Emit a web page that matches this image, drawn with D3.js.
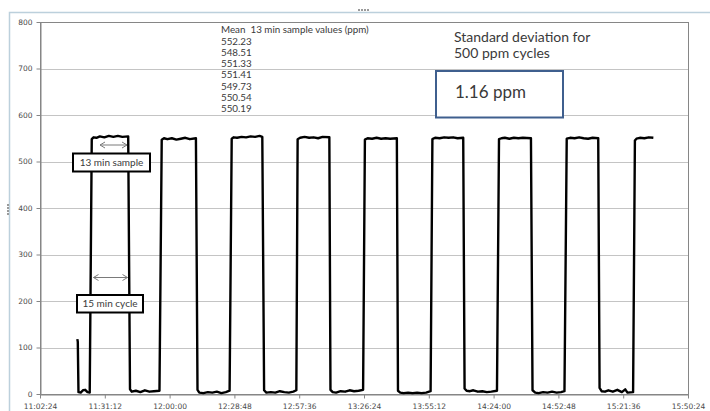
<!doctype html>
<html>
<head>
<meta charset="utf-8"/>
<title>500 ppm cycles</title>
<script src="https://cdnjs.cloudflare.com/ajax/libs/d3/7.8.5/d3.min.js"></script>
<style>
  body { margin: 0; background: #fff; }
  svg { display: block; }
  .tick-label { font-family: "DejaVu Sans", sans-serif; font-size: 7.5px; fill: #4a4a4a; }
  .note { font-family: Lato, "Open Sans", sans-serif; fill: #3a3a3a; white-space: pre; }
  .grid { stroke: #c4c4c4; stroke-width: 1; }
  .frame { stroke: #868686; stroke-width: 1; fill: none; }
</style>
</head>
<body>
<svg width="710" height="411"></svg>
<script>
var timeTicks = ["11:02:24", "11:31:12", "12:00:00", "12:28:48", "12:57:36", "13:26:24",
                 "13:55:12", "14:24:00", "14:52:48", "15:21:36", "15:50:24"];
var ppmTicks = [0, 100, 200, 300, 400, 500, 600, 700, 800];

var sampleTimes = [
  "11:19:00","11:19:12","11:19:30","11:20:30","11:21:30","11:22:30","11:23:30","11:24:30",
  "11:25:24","11:26:12","11:27:30","11:29:00","11:31:00","11:33:00","11:35:00","11:37:00","11:39:00","11:41:36",
  "11:42:24","11:43:12","11:45:00","11:47:00","11:49:00","11:51:00","11:53:00","11:55:30",
  "11:56:30","11:57:30","11:59:00","12:01:00","12:03:00","12:05:00","12:07:00","12:09:00","12:11:42",
  "12:12:24","12:13:12","12:15:00","12:17:00","12:19:00","12:21:00","12:23:00","12:25:00","12:26:40",
  "12:27:36","12:28:30","12:30:00","12:32:00","12:34:00","12:36:00","12:38:00","12:40:00","12:41:12",
  "12:42:00","12:43:00","12:45:00","12:47:00","12:49:00","12:51:00","12:53:00","12:55:00","12:56:20",
  "12:56:54","12:58:00","13:00:00","13:02:00","13:04:00","13:06:00","13:08:00","13:11:00",
  "13:11:30","13:12:30","13:14:00","13:16:00","13:18:00","13:20:00","13:22:00","13:24:00","13:26:00",
  "13:26:48","13:28:00","13:30:00","13:32:00","13:34:00","13:36:00","13:38:00","13:41:00",
  "13:41:30","13:42:30","13:44:00","13:46:00","13:48:00","13:50:00","13:52:00","13:54:00","13:56:00",
  "13:56:48","13:58:00","14:00:00","14:02:00","14:04:00","14:06:00","14:08:00","14:10:30",
  "14:11:06","14:12:00","14:13:30","14:15:00","14:17:00","14:19:00","14:21:00","14:23:00","14:25:30",
  "14:26:24","14:27:30","14:29:00","14:31:00","14:33:00","14:35:00","14:37:00","14:40:36",
  "14:41:18","14:42:30","14:44:00","14:46:00","14:48:00","14:50:00","14:52:00","14:54:00","14:55:30",
  "14:56:30","14:58:00","15:00:00","15:02:00","15:04:00","15:06:00","15:08:00","15:10:30",
  "15:11:06","15:12:00","15:13:30","15:15:00","15:17:00","15:19:00","15:21:00","15:22:30","15:23:30","15:26:00",
  "15:26:48","15:27:30","15:29:00","15:31:00","15:33:00","15:35:00"
];
var ppmValues = [
  118,112,4,3,8,9,4,3,
  548,552,551,554,552,555,553,555,553,554,
  10,5,7,4,8,5,6,7,
  547,550,548,550,547,549,551,548,550,
  9,3,2,4,3,5,2,4,7,
  549,552,551,553,552,554,553,555,553,
  8,3,4,3,6,4,3,5,8,
  548,551,553,551,552,550,553,552,
  9,4,3,6,5,8,6,7,9,
  547,550,549,551,549,550,549,550,
  7,3,2,3,2,3,2,3,6,
  548,551,550,552,551,552,550,551,
  12,7,6,8,5,6,4,5,7,
  548,550,551,549,551,550,551,550,
  8,3,2,4,3,5,3,4,6,
  549,551,550,552,550,549,551,550,
  13,6,5,8,5,9,4,10,3,4,
  545,549,551,550,552,551
];

var meanValues = ["552.23", "548.51", "551.33", "551.41", "549.73", "550.54", "550.19"];
var stdDev = "1.16 ppm";

var parseTime = d3.timeParse("%H:%M:%S");
var data = sampleTimes.map((t, i) => ({t: parseTime(t), v: ppmValues[i]}));

var svg = d3.select("svg");

// chart area border (as selected in the spreadsheet)
svg.append("path")
  .attr("d", "M9.5,411 V12.5 H710")
  .attr("fill", "none")
  .attr("stroke", "#bcd0dc")
  .attr("stroke-width", 1.5);
svg.append("g").selectAll("rect").data([0, 1, 2, 3]).enter().append("rect")
  .attr("x", d => 358 + d * 3).attr("y", 9).attr("width", 2).attr("height", 2).attr("fill", "#9a9a9a");
svg.append("g").selectAll("rect").data([0, 1, 2, 3]).enter().append("rect")
  .attr("x", 7).attr("y", d => 204 + d * 3).attr("width", 2).attr("height", 2).attr("fill", "#9a9a9a");

var x = d3.scaleTime()
  .domain([parseTime(timeTicks[0]), parseTime(timeTicks[timeTicks.length - 1])])
  .range([40, 688]);
var y = d3.scaleLinear().domain([0, 800]).range([394, 22]);

svg.append("g")
  .selectAll("line")
  .data(ppmTicks.filter(d => d > 0 && d < 800))
  .enter()
  .append("line")
  .attr("class", "grid")
  .attr("x1", x.range()[0]).attr("x2", x.range()[1])
  .attr("y1", d => Math.round(y(d)) + 0.5).attr("y2", d => Math.round(y(d)) + 0.5);

svg.append("rect")
  .attr("class", "frame")
  .attr("x", 40.5).attr("y", 22.5)
  .attr("width", 688 - 40).attr("height", 394 - 22);

var xAxis = d3.axisBottom(x)
  .tickValues(timeTicks.map(parseTime))
  .tickFormat(d3.timeFormat("%H:%M:%S"))
  .tickSize(4)
  .tickSizeOuter(0);
var gx = svg.append("g").attr("transform", "translate(0,394.5)").call(xAxis);
gx.select(".domain").attr("stroke", "#868686");
gx.selectAll(".tick line").attr("stroke", "#868686");
gx.selectAll(".tick text").attr("class", "tick-label").attr("dy", null).attr("y", 14);

var yAxis = d3.axisLeft(y).tickValues(ppmTicks).tickSize(4).tickSizeOuter(0);
var gy = svg.append("g").attr("transform", "translate(40.5,0)").call(yAxis);
gy.select(".domain").attr("stroke", "#868686");
gy.selectAll(".tick line").attr("stroke", "#868686");
gy.selectAll(".tick text").attr("class", "tick-label").attr("x", -8).attr("dy", "0.32em");

svg.append("path")
  .datum(data)
  .attr("fill", "none")
  .attr("stroke", "#000")
  .attr("stroke-width", 2.4)
  .attr("stroke-linejoin", "round")
  .attr("d", d3.line().x(d => x(d.t)).y(d => y(d.v)));

// mean values list
var notes = svg.append("text").attr("class", "note").attr("font-size", 9.8);
notes.append("tspan").attr("x", 221).attr("y", 32.5).text("Mean  13 min sample values (ppm)");
meanValues.forEach((m, i) => {
  notes.append("tspan").attr("x", 221).attr("y", 44.5 + i * 11.3).text(m);
});

svg.append("text").attr("class", "note").attr("font-size", 14)
  .attr("x", 454).attr("y", 41.5).text("Standard deviation for");
svg.append("text").attr("class", "note").attr("font-size", 14)
  .attr("x", 454).attr("y", 58).text("500 ppm cycles");

svg.append("rect")
  .attr("x", 436).attr("y", 71).attr("width", 127).attr("height", 46.5)
  .attr("fill", "#fff").attr("stroke", "#3f5f8e").attr("stroke-width", 2);
svg.append("text").attr("class", "note").attr("font-size", 17).attr("fill", "#1a1a1a")
  .attr("x", 455).attr("y", 97.5).text(stdDev);

// callouts
function callout(x0, y0, w, h, label) {
  svg.append("rect")
    .attr("x", x0).attr("y", y0).attr("width", w).attr("height", h)
    .attr("fill", "#fff").attr("stroke", "#000").attr("stroke-width", 2);
  svg.append("text").attr("class", "note").attr("font-size", 10)
    .attr("x", x0 + w / 2).attr("y", y0 + h / 2 + 3.5).attr("text-anchor", "middle")
    .text(label);
}
function arrow(x0, x1, yy) {
  svg.append("path")
    .attr("d", "M" + x0 + "," + yy + " H" + x1 +
      " M" + (x0 + 5) + "," + (yy - 3) + " L" + x0 + "," + yy + " L" + (x0 + 5) + "," + (yy + 3) +
      " M" + (x1 - 5) + "," + (yy - 3) + " L" + x1 + "," + yy + " L" + (x1 - 5) + "," + (yy + 3))
    .attr("fill", "none").attr("stroke", "#7a7a7a").attr("stroke-width", 1);
}
arrow(100, 127, 145);
arrow(93.5, 127.5, 277.5);
callout(73, 153.5, 77, 18, "13 min sample");
callout(77, 295, 66, 17.5, "15 min cycle");
</script>
</body>
</html>
